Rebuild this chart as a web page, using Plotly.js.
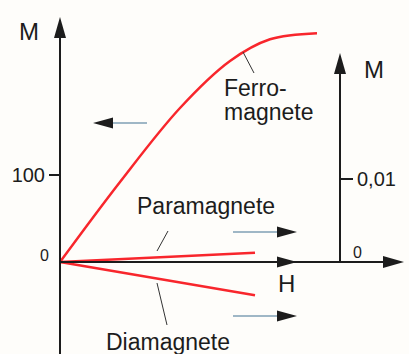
<!DOCTYPE html>
<html><head><meta charset="utf-8">
<script src="https://cdn.plot.ly/plotly-3.0.1.min.js"></script>
<style>html,body{margin:0;padding:0;background:#fefdfa}#chart{width:409px;height:354px}</style>
</head><body><div id="chart"></div>
<script>
// Magnetisation M versus field H.
// Ferromagnet is read on the left M scale, para- and diamagnet on the right one.
const ferroH = [0, 60, 120, 170, 210, 257];
const ferroM = [0, 92, 177, 231, 256, 263];
const paraH = [0, 195];
const paraM = [0, 0.0011];
const diaH = [0, 195];
const diaM = [0, -0.0040];
const leftTickVals = [100];
const leftTickText = ['100'];
const rightTickVals = [0.01];
const rightTickText = ['0,01'];

const W = 409, Hpx = 354;
const xRange = [-60, 349];
const yRange = [-105.7, 301.1];
const y2Range = [-0.011084, 0.031566];

const FONT = '"Liberation Sans", Arial, sans-serif';
const INK = '#1c1c1c';
const RED = '#f8262c';
const TAIL = '#7f9fb4';

// paper helpers for labels and leader strokes
const px = v => v / W;
const py = v => 1 - v / Hpx;

function head(x, y, yref, dir) {
  // filled arrow head, sized in pixels, tip anchored at (x, y)
  const paths = {
    up: 'M0,0 L-6,-21 L6,-21 Z',
    right: 'M0,0 L-21,6 L-21,-6 Z',
    left: 'M0,0 L20,5.5 L20,-5.5 Z',
    rightSmall: 'M0,0 L-20,5.5 L-20,-5.5 Z'
  };
  return {type: 'path', xref: 'x', yref: yref, xsizemode: 'pixel', ysizemode: 'pixel',
    xanchor: x, yanchor: y, path: paths[dir], fillcolor: INK, line: {width: 0}, layer: 'above'};
}
function seg(x0, y0, x1, y1, yref, color, width) {
  return {type: 'line', xref: 'x', yref: yref, x0: x0, y0: y0, x1: x1, y1: y1,
    line: {color: color, width: width}, layer: 'above'};
}
function stroke(a, b, c, d) {
  return {type: 'line', xref: 'paper', yref: 'paper', x0: px(a), y0: py(b), x1: px(c), y1: py(d),
    line: {color: '#333', width: 1}};
}
function label(text, x, y, size, xanchor) {
  return {text: text, xref: 'paper', yref: 'paper', x: px(x), y: py(y), xanchor: xanchor || 'left',
    yanchor: 'middle', showarrow: false, font: {family: FONT, size: size, color: INK}};
}

const traces = [
  {x: ferroH, y: ferroM, type: 'scatter', mode: 'lines', yaxis: 'y',
   line: {color: RED, width: 2.5, shape: 'spline', smoothing: 1}, hoverinfo: 'skip'},
  {x: paraH, y: paraM, type: 'scatter', mode: 'lines', yaxis: 'y2',
   line: {color: RED, width: 2.5}, hoverinfo: 'skip'},
  {x: diaH, y: diaM, type: 'scatter', mode: 'lines', yaxis: 'y2',
   line: {color: RED, width: 2.5}, hoverinfo: 'skip'}
];

const hEnd = 344, hMid = 237, rightX = 280;
const shapes = [
  // left M axis
  seg(0, yRange[0], 0, 262, 'y', INK, 2),
  head(0, 281.6, 'y', 'up'),
  // H axis with its two heads
  seg(0, 0, 332, 0, 'y', INK, 2),
  head(hEnd, 0, 'y', 'right'),
  head(hMid, 0, 'y', 'rightSmall'),
  // right M axis
  seg(rightX, 0, rightX, 0.0231, 'y2', INK, 2),
  head(rightX, 0.02518, 'y2', 'up'),
  // scale pointers
  seg(87, 159.8, 50, 159.8, 'y', TAIL, 1.5),
  head(33, 159.8, 'y', 'left'),
  seg(173, 0.003614, 220, 0.003614, 'y2', TAIL, 1.5),
  head(hMid, 0.003614, 'y2', 'rightSmall'),
  seg(173, -0.006506, 220, -0.006506, 'y2', TAIL, 1.5),
  head(hMid, -0.006506, 'y2', 'rightSmall'),
  // leader strokes
  stroke(243, 52, 254, 73),
  stroke(168, 231, 157, 251),
  stroke(157, 283, 167, 325)
];

const annotations = [
  label('M', 17, 31, 24),
  label('M', 362, 69, 24),
  label('H', 276, 283, 24),
  label('0', 51, 255.5, 16, 'right'),
  label('0', 351, 252.5, 16),
  label('Ferro-', 222, 88, 23),
  label('magnete', 222, 112, 23),
  label('Paramagnete', 135, 206, 23),
  label('Diamagnete', 104, 342, 23)
];

const layout = {
  width: W, height: Hpx,
  margin: {l: 0, r: 0, t: 0, b: 0, pad: 0},
  paper_bgcolor: '#fefdfa', plot_bgcolor: 'rgba(0,0,0,0)',
  showlegend: false,
  font: {family: FONT, color: INK},
  xaxis: {range: xRange, visible: false, fixedrange: true},
  yaxis: {range: yRange, anchor: 'free', position: 60 / W, side: 'left',
    showline: false, showgrid: false, zeroline: false,
    tickmode: 'array', tickvals: leftTickVals, ticktext: leftTickText,
    ticks: 'outside', ticklen: 11, tickwidth: 1.5, tickcolor: INK,
    tickfont: {family: FONT, size: 20, color: INK}, fixedrange: true},
  yaxis2: {range: y2Range, overlaying: 'y', anchor: 'free', position: 340 / W, side: 'right',
    showline: false, showgrid: false, zeroline: false,
    tickmode: 'array', tickvals: rightTickVals, ticktext: rightTickText,
    ticks: 'outside', ticklen: 12, tickwidth: 1.5, tickcolor: INK,
    tickfont: {family: FONT, size: 20, color: INK}, fixedrange: true},
  shapes: shapes,
  annotations: annotations
};

Plotly.newPlot('chart', traces, layout, {staticPlot: true, displayModeBar: false});
</script>
</body></html>
